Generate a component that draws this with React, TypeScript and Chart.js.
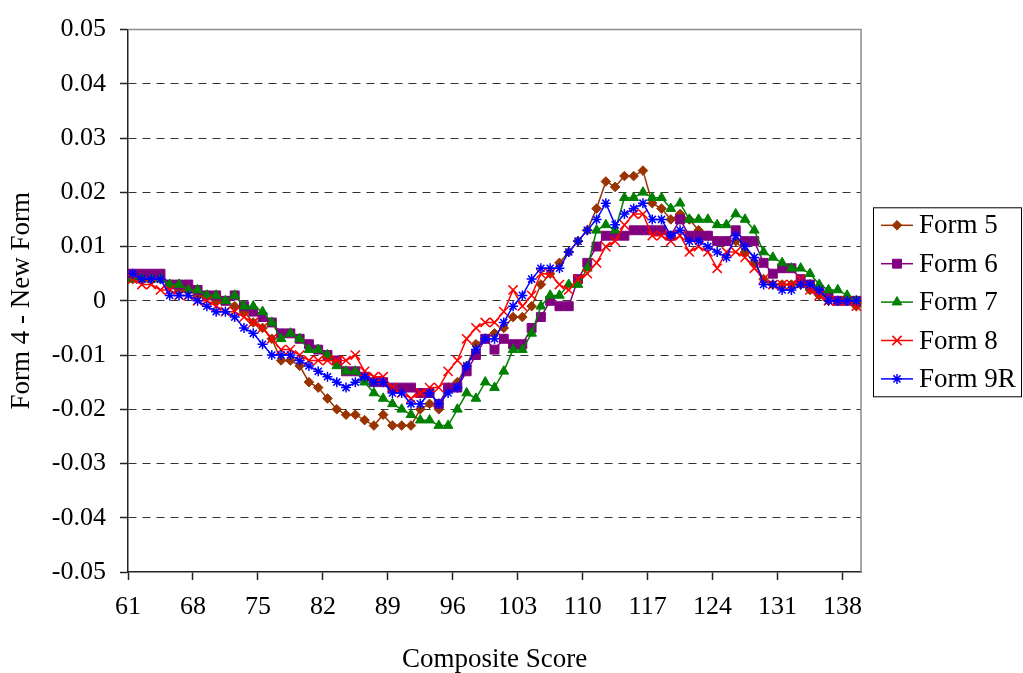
import React, { useEffect, useRef } from "react";
import { Chart, registerables } from "chart.js";
import { drawPoint } from "chart.js/helpers";

Chart.register(...registerables);

// Composite scores (categories)
const scores = [
  61, 62, 63, 64, 65, 66, 67, 68, 69, 70,
  71, 72, 73, 74, 75, 76, 77, 78, 79, 80,
  81, 82, 83, 84, 85, 86, 87, 88, 89, 90,
  91, 92, 93, 94, 95, 96, 97, 98, 99, 100,
  101, 102, 103, 104, 105, 106, 107, 108, 109, 110,
  111, 112, 113, 114, 115, 116, 117, 118, 119, 120,
  121, 122, 123, 124, 125, 126, 127, 128, 129, 130,
  131, 132, 133, 134, 135, 136, 137, 138, 139,
];

const xTickLabels = ["61", "68", "75", "82", "89", "96", "103", "110", "117", "124", "131", "138"];
const yTicks = [-0.05, -0.04, -0.03, -0.02, -0.01, 0, 0.01, 0.02, 0.03, 0.04, 0.05];
const seriesNames = ["Form 5", "Form 6", "Form 7", "Form 8", "Form 9R"];

const form5 = [
  0.004, 0.004, 0.004, 0.004, 0.003, 0.002, 0.002, 0.001, 0.001, 0.0,
  0.0, -0.001, -0.002, -0.004, -0.005, -0.007, -0.011, -0.011, -0.012, -0.015,
  -0.016, -0.018, -0.02, -0.021, -0.021, -0.022, -0.023, -0.021, -0.023, -0.023,
  -0.023, -0.02, -0.019, -0.02, -0.016, -0.015, -0.012, -0.008, -0.007, -0.006,
  -0.005, -0.003, -0.003, -0.001, 0.003, 0.005, 0.007, 0.009, 0.011, 0.013,
  0.017, 0.022, 0.021, 0.023, 0.023, 0.024, 0.018, 0.017, 0.015, 0.016,
  0.015, 0.013, 0.012, 0.011, 0.011, 0.011, 0.009, 0.007, 0.004, 0.003,
  0.003, 0.003, 0.003, 0.002, 0.001, 0.0, 0.0, 0.0, -0.001,
];

const form6 = [
  0.005, 0.005, 0.005, 0.005, 0.003, 0.003, 0.003, 0.002, 0.001, 0.001,
  0.0, 0.001, -0.001, -0.002, -0.003, -0.004, -0.006, -0.006, -0.007, -0.008,
  -0.009, -0.01, -0.011, -0.013, -0.013, -0.014, -0.015, -0.015, -0.016, -0.016,
  -0.016, -0.017, -0.017, -0.019, -0.016, -0.016, -0.013, -0.01, -0.007, -0.009,
  -0.007, -0.008, -0.008, -0.005, -0.003, 0.0, -0.001, -0.001, 0.004, 0.007,
  0.01, 0.012, 0.012, 0.012, 0.013, 0.013, 0.013, 0.013, 0.012, 0.015,
  0.012, 0.012, 0.012, 0.011, 0.011, 0.013, 0.011, 0.011, 0.007, 0.005,
  0.006, 0.006, 0.004, 0.003, 0.002, 0.001, 0.0, 0.0, 0.0,
];

const form7 = [
  0.004, 0.004, 0.004, 0.004, 0.003, 0.003, 0.002, 0.002, 0.001, 0.001,
  0.0, 0.001, -0.001, -0.001, -0.002, -0.004, -0.007, -0.006, -0.007, -0.009,
  -0.009, -0.01, -0.012, -0.013, -0.013, -0.015, -0.017, -0.018, -0.019, -0.02,
  -0.021, -0.022, -0.022, -0.023, -0.023, -0.02, -0.017, -0.018, -0.015, -0.016,
  -0.013, -0.009, -0.009, -0.006, -0.001, 0.001, 0.001, 0.003, 0.003, 0.006,
  0.013, 0.014, 0.013, 0.019, 0.019, 0.02, 0.019, 0.019, 0.017, 0.018,
  0.015, 0.015, 0.015, 0.014, 0.014, 0.016, 0.015, 0.013, 0.009, 0.008,
  0.007, 0.006, 0.006, 0.005, 0.003, 0.002, 0.002, 0.001, 0.0,
];

const form8 = [
  0.004, 0.003, 0.003, 0.002, 0.002, 0.001, 0.001, 0.0, 0.0, -0.001,
  -0.002, -0.002, -0.003, -0.004, -0.005, -0.007, -0.009, -0.009, -0.01, -0.011,
  -0.011, -0.011, -0.011, -0.011, -0.01, -0.013, -0.014, -0.014, -0.016, -0.017,
  -0.018, -0.017, -0.016, -0.016, -0.013, -0.011, -0.007, -0.005, -0.004, -0.004,
  -0.002, 0.002, -0.001, 0.001, 0.005, 0.005, 0.003, 0.002, 0.004, 0.005,
  0.007, 0.01, 0.011, 0.014, 0.016, 0.016, 0.012, 0.012, 0.011, 0.012,
  0.009, 0.01, 0.009, 0.006, 0.009, 0.009, 0.008, 0.006, 0.004, 0.003,
  0.003, 0.003, 0.004, 0.002, 0.001, 0.0, 0.0, 0.0, -0.001,
];

const form9R = [
  0.005, 0.004, 0.004, 0.004, 0.001, 0.001, 0.001, 0.0, -0.001, -0.002,
  -0.002, -0.003, -0.005, -0.006, -0.008, -0.01, -0.01, -0.01, -0.011, -0.012,
  -0.013, -0.014, -0.015, -0.016, -0.015, -0.014, -0.015, -0.015, -0.017, -0.017,
  -0.019, -0.019, -0.017, -0.019, -0.017, -0.016, -0.012, -0.009, -0.007, -0.007,
  -0.004, -0.001, 0.001, 0.004, 0.006, 0.006, 0.006, 0.009, 0.011, 0.013,
  0.015, 0.018, 0.014, 0.016, 0.017, 0.018, 0.015, 0.015, 0.012, 0.013,
  0.011, 0.011, 0.01, 0.009, 0.008, 0.012, 0.01, 0.008, 0.003, 0.003,
  0.002, 0.002, 0.003, 0.003, 0.002, 0.0, 0.0, 0.0, 0.0,
];

const seriesData = [form5, form6, form7, form8, form9R];

const FONT_FAMILY = '"Liberation Serif", "Times New Roman", serif';

type SeriesStyle = { color: string; pointStyle: any; radius: number; pointBorder: number };
const seriesStyles: SeriesStyle[] = [
  { color: "#993300", pointStyle: "rectRot", radius: 4.8, pointBorder: 1 },
  { color: "#800080", pointStyle: "rect", radius: 6.3, pointBorder: 1 },
  { color: "#008000", pointStyle: "triangle", radius: 5.6, pointBorder: 1 },
  { color: "#FF0000", pointStyle: "crossRot", radius: 6.5, pointBorder: 1.5 },
  { color: "#0000FF", pointStyle: "star", radius: 5, pointBorder: 1.5 },
];

const frameAndLegend = {
  id: "frameAndLegend",
  beforeDatasetsDraw(chart: any) {
    const { ctx, chartArea: a } = chart;
    ctx.save();
    ctx.strokeStyle = "#8c8c8c";
    ctx.lineWidth = 1.5;
    ctx.beginPath();
    ctx.moveTo(a.left, a.top);
    ctx.lineTo(a.right, a.top);
    ctx.lineTo(a.right, a.bottom);
    ctx.stroke();
    ctx.restore();
  },
  afterDraw(chart: any) {
    const { ctx, chartArea: a } = chart;
    const rowH = 38.4;
    const boxH = 189;
    const boxLeft = a.right + 12;
    const boxRight = chart.width - 1;
    const boxTop = (a.top + a.bottom) / 2 - boxH / 2 + 1;
    ctx.save();
    ctx.fillStyle = "#ffffff";
    ctx.fillRect(boxLeft, boxTop, boxRight - boxLeft, boxH);
    ctx.strokeStyle = "#000000";
    ctx.lineWidth = 1;
    ctx.strokeRect(boxLeft + 0.5, boxTop + 0.5, boxRight - boxLeft - 1, boxH);
    seriesNames.forEach((name, k) => {
      const st = seriesStyles[k];
      const y = boxTop + 18 + k * rowH;
      const x0 = boxLeft + 8;
      const x1 = boxLeft + 40;
      ctx.strokeStyle = st.color;
      ctx.fillStyle = st.color;
      ctx.lineWidth = 1.5;
      ctx.beginPath();
      ctx.moveTo(x0, y);
      ctx.lineTo(x1, y);
      ctx.stroke();
      ctx.lineWidth = st.pointBorder;
      drawPoint(ctx, { pointStyle: st.pointStyle, radius: st.radius, rotation: 0, borderWidth: st.pointBorder } as any, (x0 + x1) / 2, y);
      ctx.fillStyle = "#000000";
      ctx.font = `27px ${FONT_FAMILY}`;
      ctx.textBaseline = "middle";
      ctx.textAlign = "left";
      ctx.fillText(name, x1 + 6, y + 1);
    });
    ctx.restore();
  },
};

export default function App() {
  const canvasRef = useRef<HTMLCanvasElement | null>(null);

  useEffect(() => {
    document.body.style.margin = "0";
    document.body.style.overflow = "hidden";
    const canvas = canvasRef.current;
    if (!canvas) return;

    const tickFont = { family: FONT_FAMILY, size: 26 };
    const titleFont = { family: FONT_FAMILY, size: 27 };

    const chart = new Chart(canvas, {
      type: "line",
      data: {
        labels: scores.map(String),
        datasets: seriesNames.map((name, k) => ({
          label: name,
          data: seriesData[k],
          borderColor: seriesStyles[k].color,
          backgroundColor: seriesStyles[k].color,
          pointBackgroundColor: seriesStyles[k].color,
          pointBorderColor: seriesStyles[k].color,
          pointStyle: seriesStyles[k].pointStyle,
          pointRadius: seriesStyles[k].radius,
          pointBorderWidth: seriesStyles[k].pointBorder,
          borderWidth: 1.5,
          tension: 0,
          fill: false,
          order: seriesNames.length - k,
        })),
      },
      options: {
        animation: false,
        responsive: false,
        maintainAspectRatio: false,
        devicePixelRatio: 1,
        layout: { padding: { top: 23, right: 162, bottom: 0, left: 0 } },
        plugins: {
          legend: { display: false },
          tooltip: { enabled: false },
        },
        scales: {
          x: {
            type: "category",
            offset: true,
            grid: {
              display: true,
              offset: true,
              drawOnChartArea: false,
              drawTicks: true,
              tickLength: 8,
              tickWidth: 1.5,
              color: "rgba(0,0,0,0)",
              tickColor: (ctx: any) =>
                ctx.type === "tick" && xTickLabels.includes(String(scores[ctx.index])) ? "#222222" : "rgba(0,0,0,0)",
            },
            border: { display: true, color: "#222222", width: 1.5 },
            ticks: {
              autoSkip: false,
              maxRotation: 0,
              minRotation: 0,
              padding: 12,
              labelOffset: -4.6,
              color: "#000000",
              font: tickFont,
              callback: (_v: any, i: number) =>
                xTickLabels.includes(String(scores[i])) ? String(scores[i]) : "",
            },
            title: {
              display: true,
              text: "Composite Score",
              color: "#000000",
              font: titleFont,
              padding: { top: 0, bottom: -3 },
            },
            afterFit: (s: any) => {
              s.height = 101;
            },
          },
          y: {
            type: "linear",
            min: -0.05,
            max: 0.05,
            afterBuildTicks: (s: any) => {
              s.ticks = yTicks.map((v) => ({ value: v }));
            },
            grid: {
              display: true,
              drawTicks: true,
              tickLength: 8,
              tickWidth: 1.5,
              tickColor: "#222222",
              lineWidth: 1,
              color: (ctx: any) =>
                ctx.type === "tick" && ctx.tick && Math.abs(Math.abs(ctx.tick.value) - 0.05) < 1e-9
                  ? "rgba(0,0,0,0)"
                  : "#333333",
            },
            border: { display: true, color: "#222222", width: 1.5, dash: [8, 6] },
            ticks: {
              padding: 14,
              color: "#000000",
              font: tickFont,
              callback: (v: any) => {
                const n = Number(v);
                return Math.abs(n) < 1e-9 ? "0" : n.toFixed(2);
              },
            },
            title: {
              display: true,
              text: "Form 4 - New Form",
              color: "#000000",
              font: titleFont,
              padding: { top: 6, bottom: 0 },
            },
            afterFit: (s: any) => {
              s.width = 128;
            },
          },
        },
      },
      plugins: [frameAndLegend],
    } as any);

    return () => {
      chart.destroy();
    };
  }, []);

  return (
    <div style={{ width: 1023, height: 673, position: "relative" }}>
      <canvas ref={canvasRef} width={1023} height={673} style={{ display: "block" }} />
    </div>
  );
}
